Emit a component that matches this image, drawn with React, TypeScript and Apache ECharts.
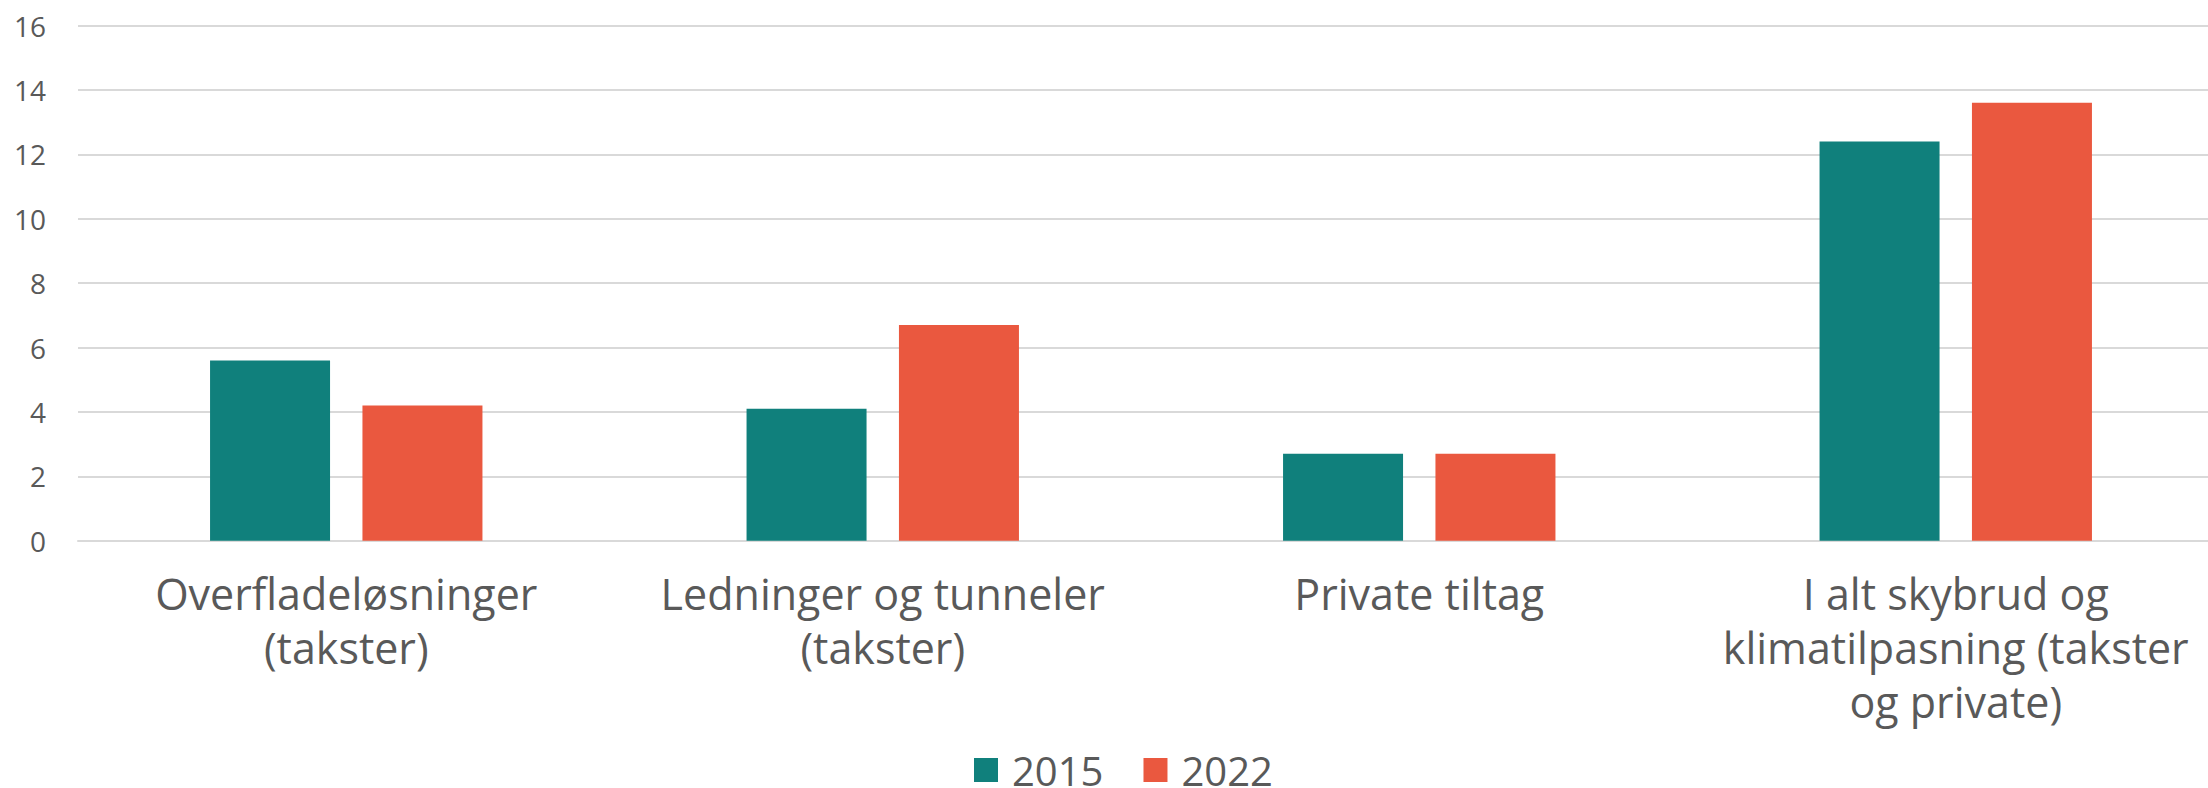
import React, { useEffect, useRef } from "react";
import * as echarts from "echarts";

const categories = [
  "Overfladeløsninger\n(takster)",
  "Ledninger og tunneler\n(takster)",
  "Private tiltag",
  "I alt skybrud og\nklimatilpasning (takster\nog private)",
];
const values2015 = [5.6, 4.1, 2.7, 12.4];
const values2022 = [4.2, 6.7, 2.7, 13.6];
const seriesNames = ["2015", "2022"];
const yTicks = { min: 0, max: 16, interval: 2 };

const FONT = "'Open Sans', 'Noto Sans', sans-serif";
const GREY = "#595959";

export default function App() {
  const ref = useRef<HTMLDivElement>(null);
  useEffect(() => {
    document.documentElement.style.overflow = "hidden";
    document.body.style.overflow = "hidden";
    document.body.style.margin = "0";
    if (!ref.current) return;
    const chart = echarts.init(ref.current, undefined, { renderer: "svg" });
    chart.setOption({
      animation: false,
      backgroundColor: "#ffffff",
      grid: { left: 78, right: 0, top: 25.5, bottom: 247.3, containLabel: false },
      legend: {
        data: seriesNames,
        left: 974,
        top: 750,
        padding: 0,
        icon: "rect",
        itemWidth: 24,
        itemHeight: 24,
        itemGap: 40,
        textStyle: {
          fontFamily: FONT,
          fontSize: 40,
          lineHeight: 40,
          color: GREY,
          padding: [0, 0, 0, 9],
        },
      },
      xAxis: {
        type: "category",
        data: categories,
        axisLine: { show: true, lineStyle: { color: "#d9d9d9", width: 2 } },
        axisTick: { show: false },
        axisLabel: {
          interval: 0,
          margin: 26,
          fontFamily: FONT,
          fontSize: 43,
          lineHeight: 54,
          color: GREY,
        },
      },
      yAxis: {
        type: "value",
        min: yTicks.min,
        max: yTicks.max,
        interval: yTicks.interval,
        axisLine: { show: false },
        axisTick: { show: false },
        splitLine: { lineStyle: { color: "#d9d9d9", width: 2 } },
        axisLabel: { fontFamily: FONT, fontSize: 28, color: GREY, margin: 32 },
      },
      series: [
        {
          name: seriesNames[0],
          type: "bar",
          data: values2015,
          barWidth: 120,
          barGap: "27%",
          itemStyle: { color: "#10807c" },
        },
        {
          name: seriesNames[1],
          type: "bar",
          data: values2022,
          barWidth: 120,
          barGap: "27%",
          itemStyle: { color: "#ea583f" },
        },
      ],
    });
    return () => chart.dispose();
  }, []);
  return (
    <div
      ref={ref}
      style={{ position: "fixed", left: 0, top: 0, width: 2224, height: 788 }}
    />
  );
}
